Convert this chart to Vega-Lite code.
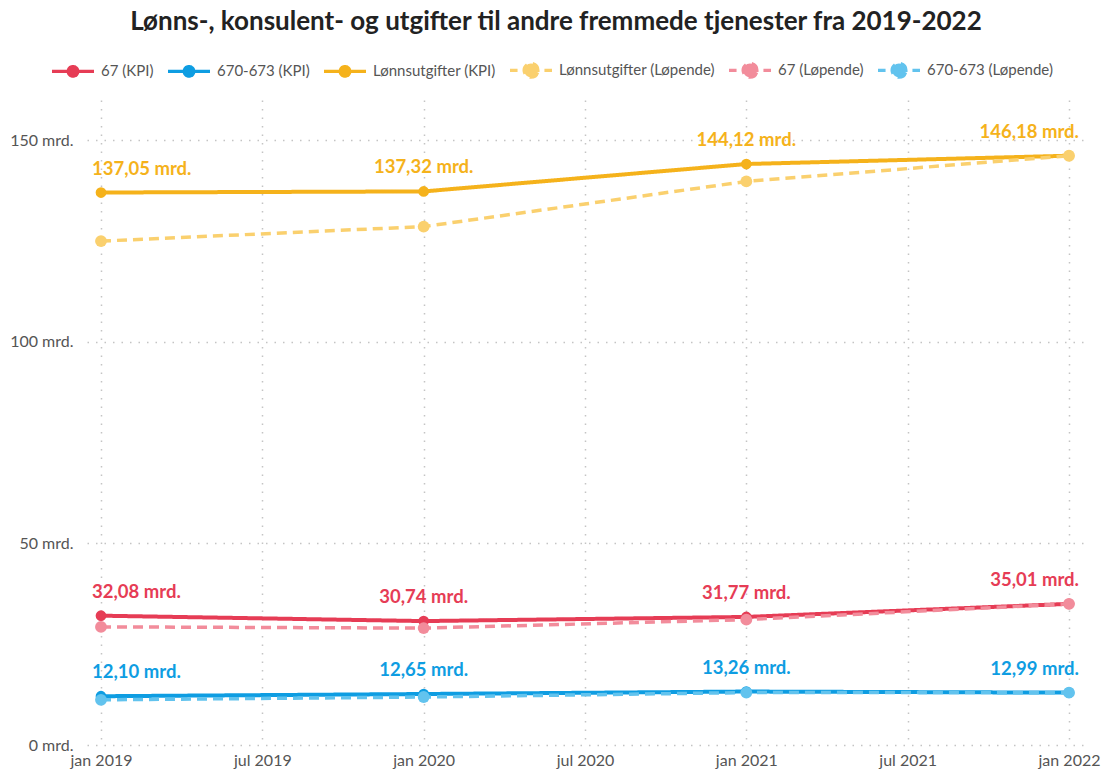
{
  "$schema": "https://vega.github.io/schema/vega-lite/v6.json",
  "width": 996,
  "height": 645,
  "autosize": "none",
  "padding": {"left": 87, "top": 100, "right": 19, "bottom": 26},
  "background": "white",
  "title": {
    "text": "Lønns-, konsulent- og utgifter til andre fremmede tjenester fra 2019-2022",
    "anchor": "middle",
    "frame": "group",
    "dx": -29,
    "offset": 12,
    "font": "Lato",
    "fontSize": 26,
    "fontWeight": "bold",
    "color": "#222222"
  },
  "data": {
    "values": [
      {"series": "67 (KPI)", "type": "KPI", "year": 2019, "value": 32.08},
      {"series": "67 (KPI)", "type": "KPI", "year": 2020, "value": 30.74},
      {"series": "67 (KPI)", "type": "KPI", "year": 2021, "value": 31.77},
      {"series": "67 (KPI)", "type": "KPI", "year": 2022, "value": 35.01},
      {"series": "670-673 (KPI)", "type": "KPI", "year": 2019, "value": 12.10},
      {"series": "670-673 (KPI)", "type": "KPI", "year": 2020, "value": 12.65},
      {"series": "670-673 (KPI)", "type": "KPI", "year": 2021, "value": 13.26},
      {"series": "670-673 (KPI)", "type": "KPI", "year": 2022, "value": 12.99},
      {"series": "Lønnsutgifter (KPI)", "type": "KPI", "year": 2019, "value": 137.05},
      {"series": "Lønnsutgifter (KPI)", "type": "KPI", "year": 2020, "value": 137.32},
      {"series": "Lønnsutgifter (KPI)", "type": "KPI", "year": 2021, "value": 144.12},
      {"series": "Lønnsutgifter (KPI)", "type": "KPI", "year": 2022, "value": 146.18},
      {"series": "Lønnsutgifter (Løpende)", "type": "Løpende", "year": 2019, "value": 125.0},
      {"series": "Lønnsutgifter (Løpende)", "type": "Løpende", "year": 2020, "value": 128.6},
      {"series": "Lønnsutgifter (Løpende)", "type": "Løpende", "year": 2021, "value": 139.8},
      {"series": "Lønnsutgifter (Løpende)", "type": "Løpende", "year": 2022, "value": 146.18},
      {"series": "67 (Løpende)", "type": "Løpende", "year": 2019, "value": 29.3},
      {"series": "67 (Løpende)", "type": "Løpende", "year": 2020, "value": 29.0},
      {"series": "67 (Løpende)", "type": "Løpende", "year": 2021, "value": 31.1},
      {"series": "67 (Løpende)", "type": "Løpende", "year": 2022, "value": 35.01},
      {"series": "670-673 (Løpende)", "type": "Løpende", "year": 2019, "value": 11.2},
      {"series": "670-673 (Løpende)", "type": "Løpende", "year": 2020, "value": 11.9},
      {"series": "670-673 (Løpende)", "type": "Løpende", "year": 2021, "value": 13.0},
      {"series": "670-673 (Løpende)", "type": "Løpende", "year": 2022, "value": 12.99}
    ]
  },
  "transform": [
    {"calculate": "replace(format(datum.value, '.2f'), '.', ',') + ' mrd.'", "as": "label"}
  ],
  "encoding": {
    "x": {
      "field": "year",
      "type": "quantitative",
      "scale": {"domain": [2019, 2022], "nice": false, "zero": false, "padding": 14},
      "axis": {
        "title": null,
        "values": [2019, 2019.5, 2020, 2020.5, 2021, 2021.5, 2022],
        "labelExpr": "(datum.value % 1 == 0 ? 'jan ' : 'jul ') + floor(datum.value)",
        "labelPadding": 7,
        "labelFlush": false,
        "labelOverlap": false
      }
    },
    "y": {
      "field": "value",
      "type": "quantitative",
      "scale": {"domain": [0, 160], "nice": false},
      "axis": {
        "title": null,
        "values": [0, 50, 100, 150],
        "labelExpr": "datum.value + ' mrd.'",
        "labelPadding": 14
      }
    }
  },
  "layer": [
    {
      "transform": [{"filter": "datum.type == 'KPI'"}],
      "mark": {"type": "line", "strokeWidth": 4, "point": {"filled": true, "size": 115}},
      "encoding": {
        "color": {
          "field": "series",
          "type": "nominal",
          "scale": {
            "domain": ["67 (KPI)", "670-673 (KPI)", "Lønnsutgifter (KPI)", "Lønnsutgifter (Løpende)", "67 (Løpende)", "670-673 (Løpende)"],
            "range": ["#e63c55", "#0e9de2", "#f5b21b", "#fad06e", "#f28c9b", "#62c3ee"]
          },
          "legend": {
            "encode": {
              "symbols": {
                "update": {
                  "fill": {"scale": "color", "field": "value"},
                  "stroke": {"scale": "color", "field": "value"},
                  "shape": {"signal": "indexof(datum.value, 'Løpende') >= 0 ? 'M-1,0H-0.64M1,0H0.64M-0.33,0H0.33A0.33,0.33,0,1,1,-0.33,0A0.33,0.33,0,1,1,0.33,0Z' : 'M-1,0H1M-0.23,0A0.23,0.23,0,1,1,0.23,0A0.23,0.23,0,1,1,-0.23,0Z'"},
                  "strokeDash": {"signal": "indexof(datum.value, 'Løpende') >= 0 ? [7.5, 200] : [1, 0]"},
                  "strokeWidth": {"value": 3.2}
                }
              }
            }
          }
        },
        "strokeDash": {
          "field": "series",
          "type": "nominal",
          "scale": {
            "domain": ["67 (KPI)", "670-673 (KPI)", "Lønnsutgifter (KPI)", "Lønnsutgifter (Løpende)", "67 (Løpende)", "670-673 (Løpende)"],
            "range": [[1, 0], [1, 0], [1, 0], [10, 6], [10, 6], [10, 6]]
          }
        }
      }
    },
    {
      "transform": [{"filter": "datum.type == 'Løpende'"}],
      "mark": {"type": "line", "strokeWidth": 3.5, "point": {"filled": true, "size": 140}},
      "encoding": {
        "color": {"field": "series", "type": "nominal"},
        "strokeDash": {"field": "series", "type": "nominal"}
      }
    },
    {
      "transform": [{"filter": "datum.type == 'KPI' && datum.year == 2019"}],
      "mark": {"type": "text", "align": "left", "dx": -9, "dy": -18, "baseline": "alphabetic", "font": "Lato", "fontSize": 18.5, "fontWeight": "bold"},
      "encoding": {"text": {"field": "label"}, "color": {"field": "series", "type": "nominal"}}
    },
    {
      "transform": [{"filter": "datum.type == 'KPI' && datum.year > 2019 && datum.year < 2022"}],
      "mark": {"type": "text", "align": "center", "dy": -18, "baseline": "alphabetic", "font": "Lato", "fontSize": 18.5, "fontWeight": "bold"},
      "encoding": {"text": {"field": "label"}, "color": {"field": "series", "type": "nominal"}}
    },
    {
      "transform": [{"filter": "datum.type == 'KPI' && datum.year == 2022"}],
      "mark": {"type": "text", "align": "right", "dx": 10, "dy": -18, "baseline": "alphabetic", "font": "Lato", "fontSize": 18.5, "fontWeight": "bold"},
      "encoding": {"text": {"field": "label"}, "color": {"field": "series", "type": "nominal"}}
    }
  ],
  "resolve": {"scale": {"color": "shared", "strokeDash": "shared"}},
  "config": {
    "view": {"stroke": null},
    "axis": {
      "labelFont": "Lato",
      "labelFontSize": 16,
      "labelColor": "#555555",
      "domain": false,
      "ticks": false,
      "grid": true,
      "gridColor": "#c4c4c4",
      "gridDash": [1.5, 7],
      "gridWidth": 1.5
    },
    "legend": {
      "orient": "none",
      "legendX": -37,
      "legendY": -53,
      "direction": "horizontal",
      "columns": 6,
      "title": null,
      "padding": 0,
      "labelFont": "Lato",
      "labelFontSize": 15,
      "labelLimit": 400,
      "labelColor": "#555555",
      "labelOffset": 5,
      "columnPadding": 7,
      "symbolSize": 1764,
      "symbolStrokeWidth": 3.2,
      "symbolType": "M-1,0H1M-0.23,0A0.23,0.23,0,1,1,0.23,0A0.23,0.23,0,1,1,-0.23,0Z"
    }
  }
}
